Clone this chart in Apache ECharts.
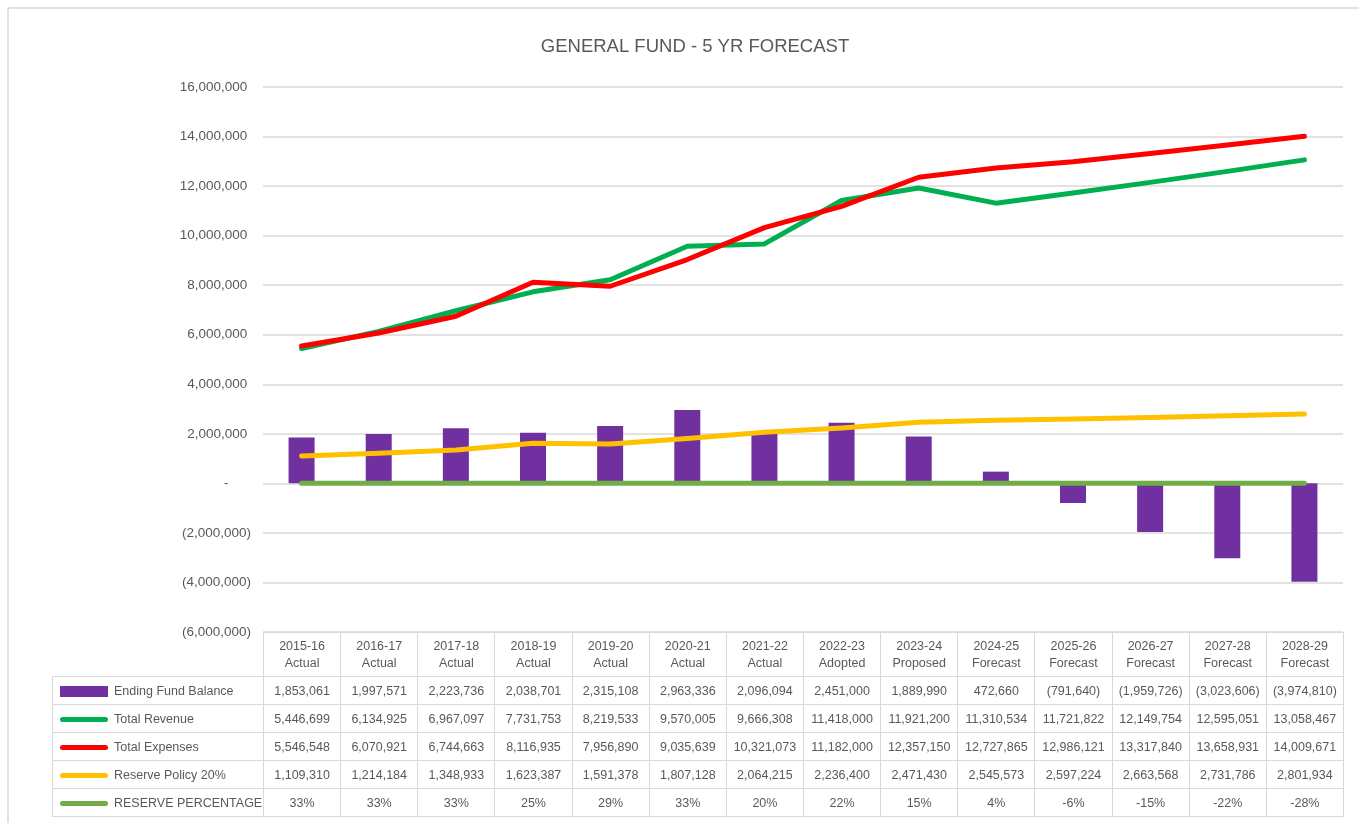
<!DOCTYPE html>
<html lang="en">
<head>
<meta charset="utf-8">
<title>General Fund - 5 Yr Forecast</title>
<script src="https://cdn.jsdelivr.net/npm/echarts@6/dist/echarts.min.js"></script>
<style>
  html, body { margin: 0; padding: 0; background: #fff; }
  #wrap { position: relative; width: 1359px; height: 823px; overflow: hidden; }
  #main { position: absolute; left: 0; top: 0; width: 1359px; height: 823px; }
  #tbl {
    position: absolute; left: 52px; top: 632px; width: 1291px;
    border-collapse: collapse; table-layout: fixed;
    font-family: "Liberation Sans", Arial, sans-serif; font-size: 12.5px; color: #595959;
  }
  #tbl td { border: 1.5px solid #d9d9d9; text-align: center; padding: 0; white-space: nowrap; overflow: hidden; }
  #tbl tr.head td { height: 43px; line-height: 17px; }
  #tbl tr.row td { height: 27px; }
  #tbl td.blank { border: none; }
  #tbl td.lab { text-align: left; padding-left: 7px; }
  .sw { display: inline-block; width: 48px; vertical-align: middle; margin-right: 6px; }
</style>
</head>
<body>
<div id="wrap">
  <div id="main"></div>
  <table id="tbl"></table>
</div>
<script type="text/javascript">
// category labels (two lines in the data table)
var years = ['2015-16','2016-17','2017-18','2018-19','2019-20','2020-21','2021-22','2022-23','2023-24','2024-25','2025-26','2026-27','2027-28','2028-29'];
var stages = ['Actual','Actual','Actual','Actual','Actual','Actual','Actual','Adopted','Proposed','Forecast','Forecast','Forecast','Forecast','Forecast'];

var endingBalance = [1853061, 1997571, 2223736, 2038701, 2315108, 2963336, 2096094, 2451000, 1889990, 472660, -791640, -1959726, -3023606, -3974810];
var totalRevenue = [5446699, 6134925, 6967097, 7731753, 8219533, 9570005, 9666308, 11418000, 11921200, 11310534, 11721822, 12149754, 12595051, 13058467];
var totalExpenses = [5546548, 6070921, 6744663, 8116935, 7956890, 9035639, 10321073, 11182000, 12357150, 12727865, 12986121, 13317840, 13658931, 14009671];
var reservePolicy = [1109310, 1214184, 1348933, 1623387, 1591378, 1807128, 2064215, 2236400, 2471430, 2545573, 2597224, 2663568, 2731786, 2801934];
var reservePct = [0.33, 0.33, 0.33, 0.25, 0.29, 0.33, 0.20, 0.22, 0.15, 0.04, -0.06, -0.15, -0.22, -0.28];

var colors = {
    bar: '#7030a0',
    revenue: '#00b050',
    expenses: '#ff0000',
    reserve: '#ffc000',
    pct: '#70ad47'
};

function fmtNum(v) {
    var s = Math.abs(Math.round(v)).toString().replace(/\B(?=(\d{3})+(?!\d))/g, ',');
    return v < 0 ? '(' + s + ')' : s;
}
function fmtPct(v) {
    return Math.round(v * 100) + '%';
}

var myChart = echarts.init(document.getElementById('main'));

var lineBase = {
    type: 'line',
    symbol: 'none',
    smooth: false,
    z: 3
};

var option = {
    animation: false,
    backgroundColor: '#fff',
    textStyle: { fontFamily: 'Liberation Sans' },
    title: {
        text: 'GENERAL FUND - 5 YR FORECAST',
        left: 690,
        textAlign: 'center',
        top: 32,
        textStyle: { color: '#595959', fontSize: 18.5, fontWeight: 'normal', fontFamily: 'Liberation Sans' }
    },
    graphic: [{
        type: 'rect',
        shape: { x: 8, y: 8, width: 1400, height: 900 },
        style: { fill: 'none', stroke: '#d9d9d9', lineWidth: 1.5 },
        silent: true
    }],
    grid: { left: 263, right: 16, top: 87, bottom: 191 },
    xAxis: {
        type: 'category',
        data: years,
        axisLine: { show: false },
        axisTick: { show: false },
        axisLabel: { show: false },
        splitLine: { show: false }
    },
    yAxis: {
        type: 'value',
        min: -6000000,
        max: 16000000,
        interval: 2000000,
        axisLine: { show: false },
        axisTick: { show: false },
        splitLine: { lineStyle: { color: '#d9d9d9', width: 1.5 } },
        axisLabel: {
            color: '#595959',
            fontSize: 13.5,
            margin: 12,
            formatter: function (v) {
                if (v === 0) return '-      ';
                return v < 0 ? fmtNum(v) : fmtNum(v) + ' ';
            }
        }
    },
    series: [
        {
            name: 'Ending Fund Balance',
            type: 'bar',
            data: endingBalance,
            barWidth: 26,
            itemStyle: { color: colors.bar },
            z: 2
        },
        Object.assign({}, lineBase, {
            name: 'Total Revenue',
            data: totalRevenue,
            lineStyle: { color: colors.revenue, width: 5, cap: 'round', join: 'round' }
        }),
        Object.assign({}, lineBase, {
            name: 'Total Expenses',
            data: totalExpenses,
            lineStyle: { color: colors.expenses, width: 5, cap: 'round', join: 'round' }
        }),
        Object.assign({}, lineBase, {
            name: 'Reserve Policy 20%',
            data: reservePolicy,
            lineStyle: { color: colors.reserve, width: 5, cap: 'round', join: 'round' }
        }),
        Object.assign({}, lineBase, {
            name: 'RESERVE PERCENTAGE',
            data: reservePct,
            lineStyle: { color: colors.pct, width: 5, cap: 'round', join: 'round' }
        })
    ]
};
myChart.setOption(option);

// data table below the plot
var rows = [
    { name: 'Ending Fund Balance', values: endingBalance, fmt: fmtNum, color: colors.bar, bar: true },
    { name: 'Total Revenue', values: totalRevenue, fmt: fmtNum, color: colors.revenue },
    { name: 'Total Expenses', values: totalExpenses, fmt: fmtNum, color: colors.expenses },
    { name: 'Reserve Policy 20%', values: reservePolicy, fmt: fmtNum, color: colors.reserve },
    { name: 'RESERVE PERCENTAGE', values: reservePct, fmt: fmtPct, color: colors.pct }
];
var html = '<colgroup><col style="width:211px">';
years.forEach(function () { html += '<col style="width:' + (1080 / years.length) + 'px">'; });
html += '</colgroup>';
html += '<tr class="head"><td class="blank"></td>';
years.forEach(function (y, i) { html += '<td>' + y + '<br>' + stages[i] + '</td>'; });
html += '</tr>';
rows.forEach(function (r) {
    var sw = r.bar
        ? '<span class="sw" style="height:11px;background:' + r.color + '"></span>'
        : '<span class="sw" style="height:5px;border-radius:3px;background:' + r.color + '"></span>';
    html += '<tr class="row"><td class="lab">' + sw + r.name + '</td>';
    r.values.forEach(function (v) { html += '<td>' + r.fmt(v) + '</td>'; });
    html += '</tr>';
});
document.getElementById('tbl').innerHTML = html;
</script>
</body>
</html>
